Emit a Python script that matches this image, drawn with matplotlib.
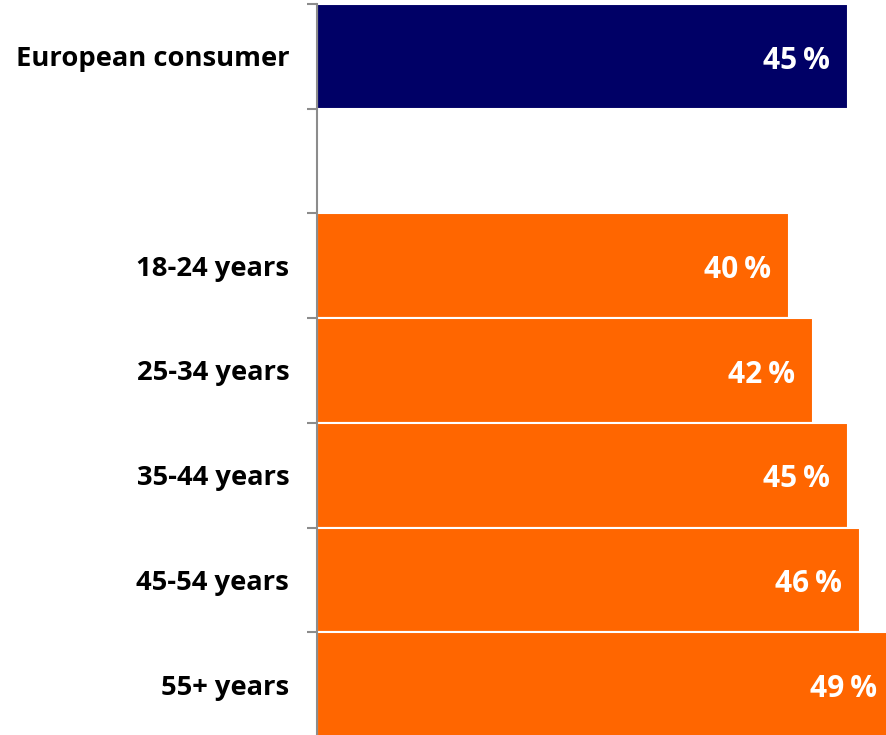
import matplotlib.pyplot as plt

# share of respondents, by group
groups = ["European consumer", "", "18-24 years", "25-34 years",
          "35-44 years", "45-54 years", "55+ years"]
shares = [45, None, 40, 42, 45, 46, 49]
colors = ["#000066", None, "#FF6600", "#FF6600", "#FF6600", "#FF6600", "#FF6600"]

plt.rcParams['font.family'] = ['Open Sans', 'DejaVu Sans']

fig = plt.figure(figsize=(8.86, 7.35), dpi=100)
ax = fig.add_axes([317 / 886, -2 / 735, 1 - 317 / 886, 733 / 735])

pos = list(range(len(groups)))
for i, (v, c) in enumerate(zip(shares, colors)):
    if v is None:
        continue
    ax.barh(i, v, height=1.0, color=c, edgecolor="white", linewidth=1.5)
    ax.annotate(f"{v}\u2009%", xy=(v, i), xytext=(-13, -3), textcoords="offset points",
                ha="right", va="center", color="white", fontsize=21.5,
                fontweight="bold", annotation_clip=False)

ax.set_xlim(0, 48.2)
ax.set_ylim(len(groups) - 0.5, -0.5)

# ticks sit on the borders between groups, labels in the middle
ax.set_yticks([p - 0.5 for p in pos])
ax.set_yticklabels([])
ax.set_yticks(pos, minor=True)
ax.set_yticklabels(groups, minor=True, fontsize=19.7, fontweight="bold")
ax.tick_params(axis="y", which="major", length=7, width=1.5, color="#8c8c8c")
ax.tick_params(axis="y", which="minor", length=0, pad=20)
ax.set_xticks([])

for side in ["top", "right", "bottom"]:
    ax.spines[side].set_visible(False)
ax.spines["left"].set_color("#8c8c8c")
ax.spines["left"].set_linewidth(1.5)

fig.savefig("out.png", dpi=100)
